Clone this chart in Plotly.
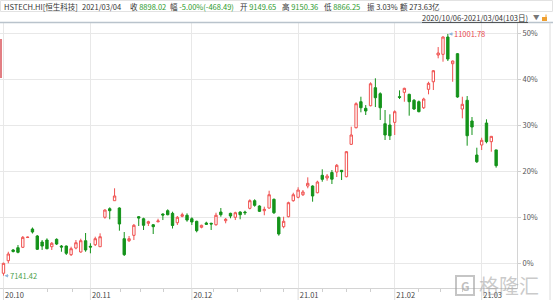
import plotly.graph_objects as go

# ---------------- data ----------------
IDX = list(range(103))
OPEN = [7180, 7381, 7552, 7588, 7595, 7751, 7887, 7775, 7679, 7711,
        7604, 7722, 7615, 7615, 7477, 7583, 7520, 7700, 7611, 7636,
        7604, 8074, 8211, 8339, 8222, 7732, 7700, 7786, 8083, 8051,
        7978, 7955, 8002, 8126, 8179, 8137, 7987, 8090, 8106, 8051,
        8010, 7914, 7983, 7978, 7955, 8158, 8019, 8137, 8074, 8158,
        8158, 8217, 8339, 8254, 8179, 8222, 8361, 8074, 7924, 8083,
        8339, 8393, 8434, 8573, 8573, 8466, 8744, 8701, 8789, 8797,
        8824, 8722, 9239, 9504, 9919, 9814, 9855, 10143, 10047, 9568,
        9547, 9590, 10000, 10069, 10037, 9942, 9919, 9823, 10117, 10238,
        10665, 10676, 10952, 10526, 10686, 9803, 9942, 9611, 9068, 9228,
        9579, 9281, 9149.65]
HIGH = [7349, 7524, 7568, 7631, 7775, 7767, 7911, 7791, 7711, 7738,
        7679, 7738, 7631, 7623, 7604, 7711, 7732, 7823, 7659, 7764,
        7818, 8201, 8233, 8537, 8233, 7839, 7775, 7967, 8094, 8067,
        8019, 7967, 8051, 8137, 8201, 8163, 8094, 8147, 8137, 8074,
        8019, 7955, 8003, 7987, 8147, 8222, 8062, 8147, 8163, 8169,
        8179, 8361, 8361, 8265, 8243, 8498, 8374, 8083, 8083, 8323,
        8466, 8553, 8509, 8712, 8584, 8658, 8840, 8765, 8829, 8925,
        8829, 9132, 9520, 9910, 9999, 9866, 10229, 10293, 10069, 9787,
        9718, 9782, 10101, 10143, 10047, 9962, 9938, 9983, 10238, 10425,
        10792, 10963, 11001.78, 10577, 10697, 9999, 10010, 9675, 9185, 9344,
        9638, 9372, 9150.36]
LOW = [7141.42, 7339, 7512, 7499, 7583, 7743, 7815, 7552, 7552, 7563,
       7552, 7631, 7524, 7472, 7456, 7563, 7508, 7524, 7499, 7615,
       7600, 8051, 8042, 8339, 7860, 7456, 7679, 7711, 7935, 7871,
       7935, 7807, 7994, 8030, 8106, 7895, 7951, 8074, 8003, 7951,
       7834, 7898, 7951, 7871, 7940, 8083, 7978, 8058, 8030, 8042,
       8110, 8201, 8243, 8158, 8106, 8211, 8126, 7780, 7898, 8074,
       8323, 8377, 8414, 8537, 8323, 8457, 8642, 8658, 8605, 8717,
       8669, 8712, 9228, 9494, 9750, 9707, 9846, 9834, 9627, 9308,
       9308, 9388, 9962, 9919, 9696, 9787, 9750, 9803, 10037, 10106,
       10612, 10558, 10569, 10238, 9983, 9654, 9217, 9388, 8941, 9148,
       9255, 9121, 8866.25]
CLOSE = [7339, 7488, 7528, 7515, 7754, 7756, 7839, 7563, 7615, 7572,
         7659, 7647, 7599, 7499, 7572, 7668, 7700, 7552, 7599, 7732,
         7764, 8190, 8179, 8414, 7967, 7477, 7732, 7946, 8062, 7946,
         8003, 7924, 8015, 8110, 8115, 7943, 8074, 8115, 8030, 7999,
         7860, 7946, 7962, 7967, 8106, 8115, 8042, 8094, 8147, 8115,
         8147, 8339, 8265, 8169, 8201, 8434, 8147, 7807, 8010, 8307,
         8434, 8509, 8478, 8616, 8414, 8637, 8680, 8733, 8682, 8904,
         8802, 9121, 9388, 9887, 9823, 9771, 10206, 9983, 9823, 9388,
         9376, 9760, 9989, 10133, 9919, 9803, 9760, 9962, 10213, 10414,
         10697, 10952, 10601, 10569, 9994, 9878, 9376, 9515, 8961, 9303,
         9281, 9366.51, 8898.02]
BASE_PRICE = 7344.0            # 0% level of the right axis
PCT_TICKS = [0, 10, 20, 30, 40, 50]
MONTH_IDX = [0, 18, 39, 61, 81, 99]
MONTH_LABELS = ["20.10", "20.11", "20.12", "21.01", "21.02", "21.03"]
MINOR_IDX = [9.2, 14.2, 24.3, 28.3, 33.2, 43.5, 48.5, 53.3, 58, 66, 71, 76, 86, 90.5, 95]
TURNOVER = "273.63亿"
CODE = "HSTECH.HI[恒生科技]"
DATE = "2021/03/04"
RANGE_TEXT = "2020/10/06-2021/03/04(103日)"

# ---------------- styling ----------------
W, H = 553, 300
ML, MR, MT, MB = 0, 36, 23, 12
PW, PH = W - ML - MR, H - MT - MB
RED = "#f0504f"
GREEN = "#14931a"
GRID = "#e8e8e8"
FONT = "Noto Sans CJK SC, Noto Sans, sans-serif"
FS = 7.5


def px(xp):
    return (xp - ML) / PW


def py(yp):
    return (H - MB - yp) / PH


fig = go.Figure(go.Candlestick(
    x=IDX, open=OPEN, high=HIGH, low=LOW, close=CLOSE,
    increasing=dict(line=dict(color=RED, width=1), fillcolor="white"),
    decreasing=dict(line=dict(color=GREEN, width=1), fillcolor=GREEN),
    whiskerwidth=0, hoverinfo="skip", showlegend=False,
))

fig.update_layout(
    width=W, height=H, autosize=False,
    margin=dict(l=ML, r=MR, t=MT, b=MB, pad=0),
    paper_bgcolor="white", plot_bgcolor="white",
    font=dict(family=FONT, size=FS, color="#333"),
    showlegend=False,
    xaxis=dict(
        range=[-0.72, -0.72 + PW / 4.83],
        tickmode="array", tickvals=MONTH_IDX, ticktext=MONTH_LABELS,
        showgrid=True, gridcolor=GRID, gridwidth=1,
        ticks="", ticklabelshift=11,
        tickfont=dict(size=FS, color="#444", family=FONT),
        showline=True, linecolor="#d4d4d4", linewidth=1,
        zeroline=False, rangeslider=dict(visible=False), fixedrange=True,
        minor=dict(tickmode="array", tickvals=MINOR_IDX, ticks="outside",
                   ticklen=3, tickcolor="#cfcfcf", showgrid=False),
    ),
    yaxis=dict(
        side="right", range=[6945, 11176],
        tickmode="array",
        tickvals=[BASE_PRICE * (1 + p / 100) for p in PCT_TICKS],
        ticktext=[f"{p}%" for p in PCT_TICKS],
        showgrid=True, gridcolor=GRID, gridwidth=1,
        ticks="outside", ticklen=3, tickcolor="#cfcfcf",
        tickfont=dict(size=FS, color="#555", family=FONT),
        showline=True, linecolor="#d4d4d4", linewidth=1,
        zeroline=False, fixedrange=True,
    ),
)

shapes = []
# month separators running through the label strip
for m in MONTH_IDX:
    shapes.append(dict(type="line", xref="x", yref="paper", x0=m, x1=m,
                       y0=py(300), y1=0, line=dict(color="#dcdcdc", width=1)))
# header box and separator line
shapes.append(dict(type="rect", xref="paper", yref="paper", x0=px(0.5), x1=px(552.5),
                   y0=py(11.5), y1=py(0.5), line=dict(color="#e2e2e2", width=1)))
shapes.append(dict(type="line", xref="paper", yref="paper", x0=px(0), x1=px(553),
                   y0=py(22.5), y1=py(22.5), line=dict(color="#b9c3cc", width=1.5)))
# right frame
shapes.append(dict(type="line", xref="paper", yref="paper", x0=px(550), x1=px(550),
                   y0=py(300), y1=py(22.5), line=dict(color="#dcdcdc", width=1)))
# red marker on left edge
shapes.append(dict(type="line", xref="paper", yref="paper", x0=px(1), x1=px(1),
                   y0=py(78), y1=py(39), line=dict(color="#d9535a", width=1.5)))
# lock icon
shapes.append(dict(type="rect", xref="paper", yref="paper", x0=px(542), x1=px(547),
                   y0=py(21), y1=py(17), fillcolor="#f0a030", line=dict(width=0)))
shapes.append(dict(type="line", xref="paper", yref="paper", x0=px(546), x1=px(546),
                   y0=py(17), y1=py(14.5), line=dict(color="#f0a030", width=1)))
# watermark logo frame
shapes.append(dict(type="rect", xref="paper", yref="paper", x0=px(456), x1=px(474),
                   y0=py(295), y1=py(276), line=dict(color="rgba(150,150,150,0.55)", width=2)))
fig.update_layout(shapes=shapes)

ann = []


def header(xpos, ypos, text, anchor="left", size=FS):
    ann.append(dict(xref="paper", yref="paper", x=px(xpos), y=py(ypos), text=text,
                    showarrow=False, xanchor=anchor, yanchor="middle",
                    font=dict(size=size, family=FONT, color="#333")))


G = "#2c9a2c"
prev = CLOSE[-2]
chg = CLOSE[-1] - prev
header(2, 6.5, CODE)
header(80, 6.5, DATE)
header(128, 6.5, f"收 <span style='color:{G}'>{CLOSE[-1]:.2f}</span>")
header(168, 6.5, f"幅 <span style='color:{G}'>{chg / prev * 100:.2f}%({chg:.2f})</span>")
header(238, 6.5, f"开 <span style='color:{G}'>{OPEN[-1]:.2f}</span>")
header(280, 6.5, f"高 <span style='color:{G}'>{HIGH[-1]:.2f}</span>")
header(322, 6.5, f"低 <span style='color:{G}'>{LOW[-1]:.2f}</span>")
header(365, 6.5, f"振 {(HIGH[-1] - LOW[-1]) / prev * 100:.2f}%")
header(398, 6.5, f"额 {TURNOVER}")
header(530, 17, f"<u>{RANGE_TEXT}</u>", anchor="right")
header(531, 17, "<span style='color:#777'>▼</span>", size=6.5)

# max / min markers
imax = max(IDX, key=lambda i: HIGH[i])
imin = min(IDX, key=lambda i: LOW[i])
ann.append(dict(x=imax, y=HIGH[imax], xref="x", yref="y", text=f"{HIGH[imax]:.2f}",
                showarrow=True, ax=22, ay=0, arrowhead=2, arrowsize=0.7, arrowwidth=1,
                arrowcolor="#8fb8dc", standoff=1,
                font=dict(size=FS, color="#e8484c", family=FONT)))
ann.append(dict(x=imin, y=LOW[imin], xref="x", yref="y", text=f"{LOW[imin]:.2f}",
                showarrow=True, ax=20, ay=0, arrowhead=2, arrowsize=0.7, arrowwidth=1,
                arrowcolor="#8fb8dc", standoff=1,
                font=dict(size=FS, color="#4aa04a", family=FONT)))

# watermark
ann.append(dict(xref="paper", yref="paper", x=px(465), y=py(285.5), text="<b>G</b>",
                xanchor="center", yanchor="middle",
                showarrow=False, font=dict(size=12, color="rgba(150,150,150,0.6)", family=FONT)))
ann.append(dict(xref="paper", yref="paper", x=px(477), y=py(285), text="格隆汇",
                xanchor="left", yanchor="middle",
                showarrow=False, font=dict(size=20, color="rgba(150,150,150,0.5)", family=FONT)))
fig.update_layout(annotations=ann)

fig.write_html("out.html")
